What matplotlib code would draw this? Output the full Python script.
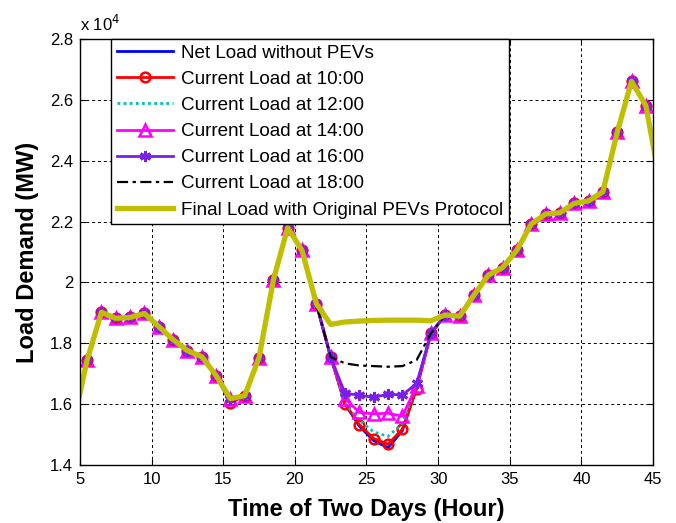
import numpy as np
import matplotlib
matplotlib.use("Agg")
import matplotlib.pyplot as plt
from matplotlib.ticker import FuncFormatter

plt.rcParams['font.family'] = ['Liberation Sans', 'DejaVu Sans']

# hours (half-hour points, the first and last lie just outside the axis)
hours = np.arange(4.5, 46.0, 1.0)

# load demand in units of 1e4 MW, identical for all series outside the valley
base = [1.527, 1.745, 1.902, 1.882, 1.885, 1.898, 1.855, 1.812, 1.776, 1.756,
        1.694, 1.618, 1.628, 1.753, 2.008, 2.180, 2.105, 1.930, 1.755,
        None, None, None, None, None, None,
        1.833, 1.893, 1.889, 1.958, 2.024, 2.049, 2.106, 2.192, 2.225, 2.229,
        2.260, 2.268, 2.298, 2.493, 2.661, 2.581, 2.325]

# valley hours 23.5 .. 28.5
valley_net = [1.600, 1.528, 1.480, 1.457, 1.512, 1.655]
valley_10 = [1.602, 1.533, 1.487, 1.468, 1.518, 1.650]
valley_12 = [1.603, 1.547, 1.509, 1.494, 1.536, 1.662]
valley_14 = [1.618, 1.573, 1.568, 1.570, 1.560, 1.660]
valley_16 = [1.635, 1.630, 1.622, 1.633, 1.630, 1.668]
valley_18 = [1.734, 1.727, 1.725, 1.723, 1.725, 1.745]
valley_final = [1.870, 1.873, 1.875, 1.876, 1.876, 1.876]

trough_low = 1.605      # value at 15.5 h for the loads without shifting
final_22 = 1.862        # final load at 22.5 h
final_29 = 1.874        # final load at 29.5 h


def series(valley, trough=None):
    vals = list(base)
    vals[19:25] = valley
    if trough is not None:
        vals[11] = trough
    return np.array(vals) * 1e4


net = series(valley_net, trough_low)
cur10 = series(valley_10, trough_low)
cur12 = series(valley_12)
cur14 = series(valley_14)
cur16 = series(valley_16)
cur18 = series(valley_18)
final = series(valley_final)
final[18] = final_22 * 1e4
final[25] = final_29 * 1e4

fig = plt.figure(figsize=(6.76, 5.23), dpi=100)
ax = fig.add_axes([0.1183, 0.1109, 0.8477, 0.8145])

ax.plot(hours, net, color='#0000ff', lw=2, label='Net Load without PEVs')
ax.plot(hours, cur10, color='#ff0000', lw=2, marker='o', ms=7, mfc='none',
        mew=1.8, label='Current Load at 10:00')
ax.plot(hours, cur12, color='#00bfbf', lw=2, ls=(0, (1, 1.2)),
        label='Current Load at 12:00')
ax.plot(hours, cur14, color='#ff00ff', lw=2, marker='^', ms=8, mfc='none',
        mew=1.8, label='Current Load at 14:00')
ax.plot(hours, cur16, color='#7a1fe8', lw=2, marker=(6, 2, 0), ms=8,
        mew=2, label='Current Load at 16:00')
ax.plot(hours, cur18, color='black', lw=1.6, ls=(0, (5, 2, 1.5, 2)),
        label='Current Load at 18:00')
ax.plot(hours, final, color='#bfbf00', lw=3.8,
        label='Final Load with Original PEVs Protocol')

ax.set_xlim(5, 45)
ax.set_ylim(1.4e4, 2.8e4)
ax.set_xticks(np.arange(5, 46, 5))
ax.set_yticks(np.arange(1.4e4, 2.81e4, 0.2e4))
ax.yaxis.set_major_formatter(FuncFormatter(lambda v, p: f"{v / 1e4:g}"))
ax.grid(True, color='black', ls=(0, (3, 3)), lw=0.7)
ax.tick_params(direction='in', length=4, labelsize=12, top=True, right=True,
               width=0.8, pad=5)
for s in ax.spines.values():
    s.set_linewidth(1.0)

ax.text(0.0, 1.012, r'x 10$^{4}$', transform=ax.transAxes, fontsize=12,
        ha='left', va='bottom')

ax.set_xlabel('Time of Two Days (Hour)', fontsize=17, fontweight='bold',
              labelpad=8)
ax.set_ylabel('Load Demand (MW)', fontsize=17, fontweight='bold', labelpad=8)

leg = ax.legend(loc='upper left', bbox_to_anchor=(0.054, 1.0), borderaxespad=0,
                fontsize=13.6, handlelength=3.0, handletextpad=0.4,
                labelspacing=0.47, fancybox=False, framealpha=1,
                borderpad=0.3)
leg.get_frame().set_edgecolor('black')
leg.get_frame().set_linewidth(1.0)

fig.savefig('out.png', dpi=100)
